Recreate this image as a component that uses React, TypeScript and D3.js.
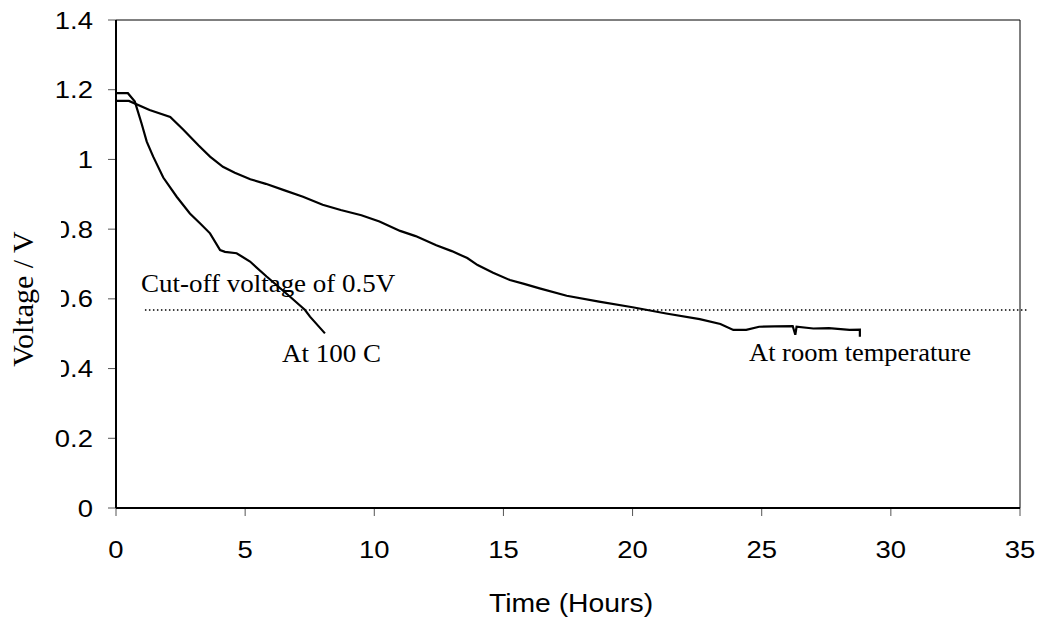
import React from "react";
import * as d3 from "d3";

const xTicks = [0, 5, 10, 15, 20, 25, 30, 35];
const yTicks = [0, 0.2, 0.4, 0.6, 0.8, 1, 1.2, 1.4];

const roomTime = [0, 0.5, 1.3, 2.1, 2.6, 3.2, 3.64, 4.14, 4.6, 5.2, 5.8, 6.5, 7.24, 8.0, 8.7, 9.5, 10.2, 11.0, 11.6, 12.4, 13.0, 13.6, 14.0, 14.6, 15.25, 15.8, 16.4, 17.45, 18.7, 20.0, 21.3, 22.6, 23.4, 23.9, 24.4, 24.9, 25.5, 26.2, 26.3, 26.35, 27.0, 27.6, 28.4, 28.8, 28.8];
const roomVolt = [1.168, 1.168, 1.142, 1.122, 1.086, 1.04, 1.008, 0.979, 0.962, 0.943, 0.93, 0.912, 0.893, 0.87, 0.855, 0.84, 0.822, 0.795, 0.78, 0.754, 0.737, 0.717, 0.697, 0.675, 0.654, 0.643, 0.63, 0.609, 0.592, 0.576, 0.558, 0.542, 0.528, 0.511, 0.511, 0.52, 0.521, 0.522, 0.497, 0.52, 0.515, 0.516, 0.511, 0.512, 0.491];

const hotTime = [0, 0.46, 0.73, 0.99, 1.19, 1.44, 1.83, 2.35, 2.86, 3.25, 3.64, 4.03, 4.22, 4.67, 5.19, 5.83, 6.74, 7.32, 7.51, 8.09];
const hotVolt = [1.19, 1.19, 1.166, 1.103, 1.051, 1.008, 0.948, 0.893, 0.845, 0.817, 0.788, 0.74, 0.735, 0.731, 0.707, 0.664, 0.606, 0.568, 0.549, 0.501];

const cutoffVolt = 0.568;
const cutoffRange = [1.12, 35.3];

export default function App() {
  const W = 1043, H = 625;
  const left = 116, right = 1020, top = 20, bottom = 508;
  const x = d3.scaleLinear().domain([0, 35]).range([left, right]);
  const y = d3.scaleLinear().domain([0, 1.4]).range([bottom, top]);
  const line = d3.line<[number, number]>().x(d => x(d[0])).y(d => y(d[1]));
  const room: [number, number][] = roomTime.map((t, i) => [t, roomVolt[i]]);
  const hot: [number, number][] = hotTime.map((t, i) => [t, hotVolt[i]]);
  const sans = "Arial, 'Liberation Sans', sans-serif";
  const serif = "'Times New Roman', 'Liberation Serif', serif";
  const T = (px: number, py: number, s: number) => `translate(${px},${py}) scale(${s},1)`;
  return (
    <svg width={W} height={H} style={{ position: "absolute", left: 0, top: 0, background: "#fff" }}>
      <rect x={0} y={0} width={W} height={H} fill="#fff" />
      {/* frame */}
      <line x1={left} x2={right} y1={top} y2={top} stroke="#000" strokeWidth={1} />
      <line x1={right} x2={right} y1={top} y2={bottom} stroke="#000" strokeWidth={1} />
      {/* ticks */}
      {yTicks.map(v => (
        <line key={"yt" + v} x1={left - 8} x2={left} y1={y(v)} y2={y(v)} stroke="#555" strokeWidth={1} />
      ))}
      {xTicks.map(v => (
        <line key={"xt" + v} x1={x(v)} x2={x(v)} y1={bottom} y2={bottom + 8} stroke="#555" strokeWidth={1} />
      ))}
      <line x1={left} x2={left} y1={top} y2={bottom} stroke="#000" strokeWidth={2} />
      <line x1={left} x2={right} y1={bottom} y2={bottom} stroke="#000" strokeWidth={2} />
      {/* tick labels */}
      {yTicks.map(v => (
        <text key={"yl" + v} transform={T(93, y(v) + 8.5, 1.12)} textAnchor="end" fontFamily={sans} fontSize={24.5} fill="#000">
          {String(v)}
        </text>
      ))}
      {xTicks.map(v => (
        <text key={"xl" + v} transform={T(x(v), 558, 1.12)} textAnchor="middle" fontFamily={sans} fontSize={24.5} fill="#000">
          {String(v)}
        </text>
      ))}
      {/* title box that clips labels */}
      <rect x={0} y={215} width={61} height={170} fill="#fff" />
      <text transform={`translate(33,299) rotate(-90)`} textAnchor="middle" fontFamily={serif} fontSize={30} fill="#000">
        Voltage / V
      </text>
      <text transform={T(571, 612, 1.09)} textAnchor="middle" fontFamily={sans} fontSize={26} fill="#000">
        Time (Hours)
      </text>
      {/* cutoff */}
      <line x1={x(cutoffRange[0])} x2={x(cutoffRange[1])} y1={y(cutoffVolt)} y2={y(cutoffVolt)} stroke="#000" strokeWidth={1.5} strokeDasharray="1.5,2.5" />
      {/* curves */}
      <path d={line(room) || ""} fill="none" stroke="#000" strokeWidth={2.2} />
      <path d={line(hot) || ""} fill="none" stroke="#000" strokeWidth={2.2} />
      {/* annotations */}
      <text transform={T(141, 292, 1.08)} fontFamily={serif} fontSize={25} fill="#000">Cut-off voltage of 0.5V</text>
      <text transform={T(282, 362, 1.08)} fontFamily={serif} fontSize={25} fill="#000">At 100 C</text>
      <text transform={T(749, 361, 1.06)} fontFamily={serif} fontSize={25} fill="#000">At room temperature</text>
    </svg>
  );
}
